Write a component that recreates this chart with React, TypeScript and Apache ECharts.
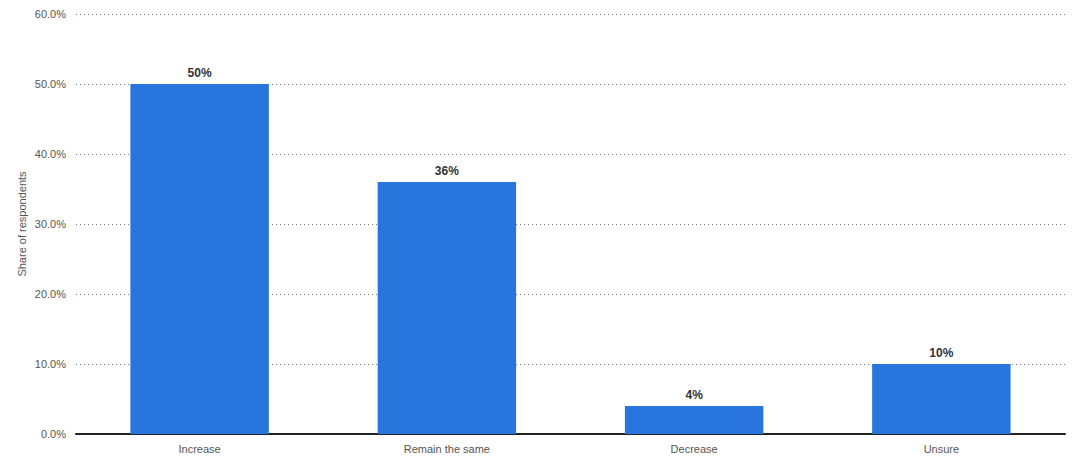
import React, { useEffect, useRef } from "react";
import * as echarts from "echarts";

const categories = ["Increase", "Remain the same", "Decrease", "Unsure"];
const values = [50, 36, 4, 10];
const yTicks = [0, 10, 20, 30, 40, 50, 60];

export default function App() {
  const ref = useRef<HTMLDivElement>(null);
  useEffect(() => {
    const chart = echarts.init(ref.current!, null, { renderer: "svg" });
    chart.setOption({
      animation: false,
      grid: { left: 76, right: 15, top: 14, bottom: 29 },
      xAxis: {
        type: "category",
        data: categories,
        axisLine: { lineStyle: { color: "#222", width: 2 } },
        axisTick: { show: false },
        axisLabel: { color: "#555", fontSize: 11, fontFamily: "Liberation Sans, Arial, sans-serif", margin: 9 },
      },
      yAxis: {
        type: "value",
        min: yTicks[0],
        max: yTicks[yTicks.length - 1],
        interval: 10,
        name: "Share of respondents",
        nameLocation: "middle",
        nameGap: 49,
        nameMoveOverlap: false,
        nameTextStyle: { color: "#555", fontSize: 11, fontFamily: "Liberation Sans, Arial, sans-serif" },
        axisLabel: {
          color: "#555",
          fontSize: 11,
          fontFamily: "Liberation Sans, Arial, sans-serif",
          margin: 10,
          formatter: (v: number) => v.toFixed(1) + "%",
        },
        splitLine: { lineStyle: { color: "#777", type: [1, 3], width: 1 } },
        axisLine: { show: false },
        axisTick: { show: false },
      },
      series: [
        {
          type: "bar",
          data: values,
          barWidth: "56%",
          itemStyle: { color: "#2876dd" },
          label: {
            show: true,
            position: "top",
            distance: 5,
            formatter: "{c}%",
            color: "#333",
            fontWeight: "bold",
            fontSize: 12,
            fontFamily: "Liberation Sans, Arial, sans-serif",
          },
        },
      ],
    });
    return () => chart.dispose();
  }, []);
  return <div ref={ref} style={{ width: 1080, height: 463, position: "absolute", left: 0, top: 0 }} />;
}
